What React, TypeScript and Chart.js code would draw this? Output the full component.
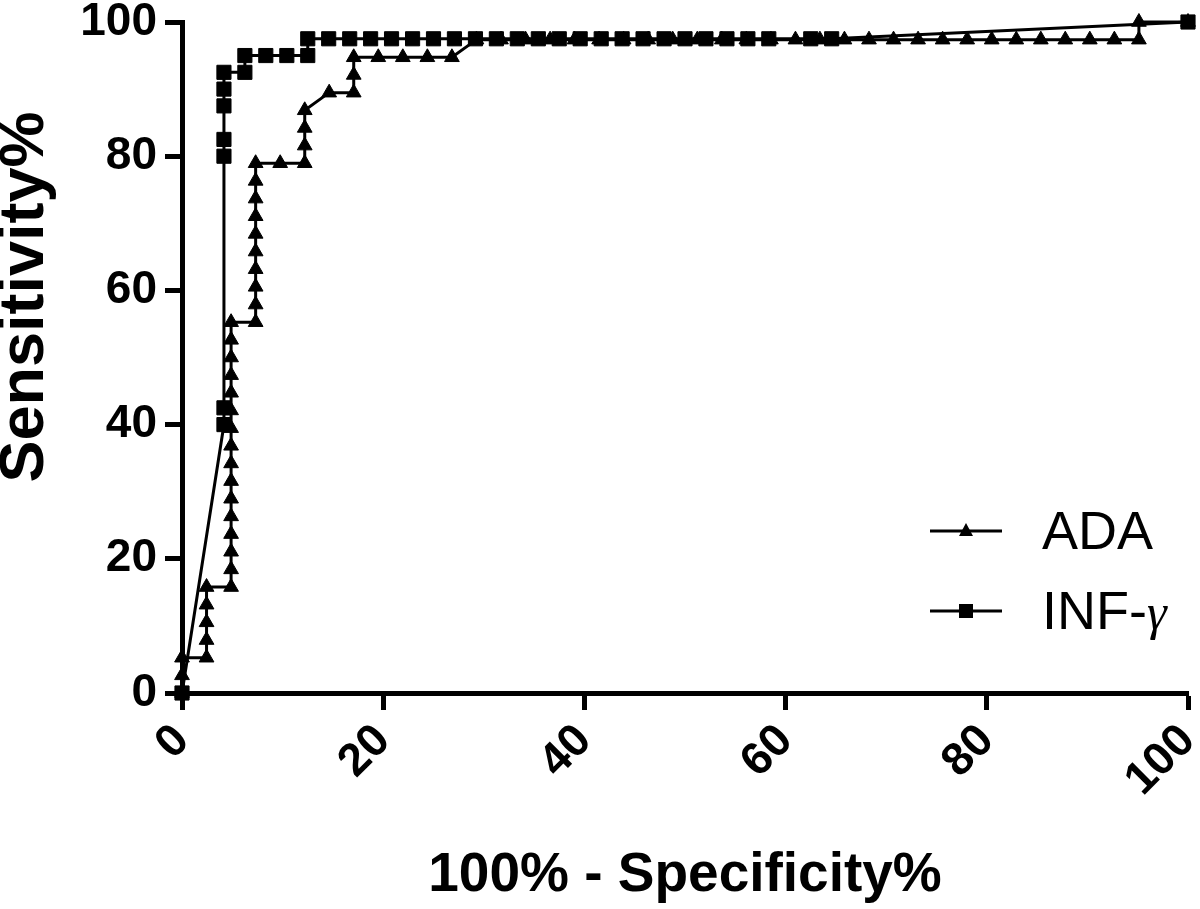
import React, { useEffect, useRef } from 'react';
import { Chart, registerables } from 'chart.js';

Chart.register(...registerables);

// ---- Data ----
const seriesNames = ['ADA', 'INF-γ'];
const xTickValues = [0, 20, 40, 60, 80, 100];
const yTickValues = [0, 20, 40, 60, 80, 100];
const xTitle = '100% - Specificity%';
const yTitle = 'Sensitivity%';

// ADA: 100% - Specificity% (x) and Sensitivity% (y)
const adaX = [
  0, 0, 0,
  2.44, 2.44, 2.44, 2.44, 2.44,
  4.88, 4.88, 4.88, 4.88, 4.88, 4.88, 4.88, 4.88, 4.88, 4.88, 4.88, 4.88, 4.88, 4.88, 4.88, 4.88,
  7.32, 7.32, 7.32, 7.32, 7.32, 7.32, 7.32, 7.32, 7.32, 7.32,
  9.76, 12.2, 12.2, 12.2, 12.2,
  14.63, 17.07, 17.07, 17.07,
  19.51, 21.95, 24.39, 26.83,
  29.27, 31.71, 34.15, 36.59, 39.02, 41.46, 43.9, 46.34, 48.78, 51.22, 53.66, 56.1, 58.54, 60.98,
  63.41, 65.85, 68.29, 70.73, 73.17, 75.61, 78.05, 80.49, 82.93, 85.37, 87.8, 90.24, 92.68, 95.12,
  95.12, 100,
];
const adaY = [
  0, 2.63, 5.26,
  5.26, 7.89, 10.53, 13.16, 15.79,
  15.79, 18.42, 21.05, 23.68, 26.32, 28.95, 31.58, 34.21, 36.84, 39.47, 42.11, 44.74, 47.37, 50.0, 52.63, 55.26,
  55.26, 57.89, 60.53, 63.16, 65.79, 68.42, 71.05, 73.68, 76.32, 78.95,
  78.95, 78.95, 81.58, 84.21, 86.84,
  89.47, 89.47, 92.11, 94.74,
  94.74, 94.74, 94.74, 94.74,
  97.37, 97.37, 97.37, 97.37, 97.37, 97.37, 97.37, 97.37, 97.37, 97.37, 97.37, 97.37, 97.37, 97.37,
  97.37, 97.37, 97.37, 97.37, 97.37, 97.37, 97.37, 97.37, 97.37, 97.37, 97.37, 97.37, 97.37, 97.37,
  100, 100,
];

// INF-γ
const infX = [
  0,
  4.17, 4.17, 4.17, 4.17, 4.17, 4.17, 4.17,
  6.25, 6.25, 8.33, 10.42, 12.5,
  12.5, 14.58, 16.67, 18.75, 20.83, 22.92, 25.0, 27.08, 29.17, 31.25, 33.33, 35.42, 37.5, 39.58,
  41.67, 43.75, 45.83, 47.92, 50.0, 52.08, 54.17, 56.25, 58.33, 62.5, 64.58,
  100,
];
const infY = [
  0,
  40, 42.5, 80, 82.5, 87.5, 90, 92.5,
  92.5, 95, 95, 95, 95,
  97.5, 97.5, 97.5, 97.5, 97.5, 97.5, 97.5, 97.5, 97.5, 97.5, 97.5, 97.5, 97.5, 97.5,
  97.5, 97.5, 97.5, 97.5, 97.5, 97.5, 97.5, 97.5, 97.5, 97.5, 97.5,
  100,
];

const FONT = "'Liberation Sans', Arial, Helvetica, sans-serif";

const legendPlugin = {
  id: 'insideLegend',
  afterDraw(chart: any) {
    const ctx: CanvasRenderingContext2D = chart.ctx;
    ctx.save();
    ctx.strokeStyle = '#000';
    ctx.fillStyle = '#000';
    ctx.lineWidth = 3;
    const rows = [
      { y: 531, style: 'triangle', label: seriesNames[0] },
      { y: 611, style: 'rect', label: seriesNames[1] },
    ];
    rows.forEach((r) => {
      ctx.beginPath();
      ctx.moveTo(930, r.y);
      ctx.lineTo(1002, r.y);
      ctx.stroke();
      ctx.beginPath();
      if (r.style === 'triangle') {
        ctx.moveTo(966, r.y - 8);
        ctx.lineTo(973, r.y + 5);
        ctx.lineTo(959, r.y + 5);
        ctx.closePath();
        ctx.fill();
      } else {
        ctx.fillRect(959, r.y - 7, 14, 14);
      }
      ctx.textBaseline = 'alphabetic';
      ctx.textAlign = 'left';
      ctx.font = `54px ${FONT}`;
      if (r.label.endsWith('γ')) {
        const base = r.label.slice(0, -1);
        ctx.fillText(base, 1042, r.y + 18);
        const w = ctx.measureText(base).width;
        ctx.font = `italic 50px 'Liberation Serif', 'DejaVu Serif', serif`;
        ctx.fillText('γ', 1042 + w, r.y + 18);
      } else {
        ctx.fillText(r.label, 1042, r.y + 18);
      }
    });

    // Y axis title (placed as in the reference, above the axis centre)
    ctx.save();
    ctx.translate(26, 297);
    ctx.rotate(-Math.PI / 2);
    ctx.textAlign = 'center';
    ctx.textBaseline = 'middle';
    ctx.font = `bold 63px ${FONT}`;
    ctx.fillText(yTitle, 0, 0);
    ctx.restore();

    ctx.restore();
  },
};

export default function App() {
  const ref = useRef<HTMLCanvasElement>(null);

  useEffect(() => {
    const canvas = ref.current;
    if (!canvas) return;
    const tickFont = { family: FONT, size: 46, weight: 'bold' as const };
    const titleFont = { family: FONT, size: 55, weight: 'bold' as const };

    const chart = new Chart(canvas, {
      type: 'line',
      data: {
        datasets: [
          {
            label: seriesNames[0],
            data: adaX.map((x, i) => ({ x, y: adaY[i] })),
            borderColor: '#000',
            borderWidth: 3,
            pointStyle: 'triangle',
            pointRadius: 8.5,
            pointBackgroundColor: '#000',
            pointBorderColor: '#000',
            pointBorderWidth: 1,
            tension: 0,
            clip: false,
          },
          {
            label: seriesNames[1],
            data: infX.map((x, i) => ({ x, y: infY[i] })),
            borderColor: '#000',
            borderWidth: 3,
            pointStyle: 'rect',
            pointRadius: 10,
            pointBackgroundColor: '#000',
            pointBorderColor: '#000',
            pointBorderWidth: 1,
            tension: 0,
            clip: false,
          },
        ],
      },
      options: {
        animation: false,
        responsive: false,
        devicePixelRatio: 1,
        layout: { padding: { top: 22, right: 12, left: 0, bottom: 0 } },
        plugins: {
          legend: { display: false },
          tooltip: { enabled: false },
        },
        scales: {
          x: {
            type: 'linear',
            min: 0,
            max: 100,
            afterBuildTicks: (s: any) => {
              s.ticks = xTickValues.map((v) => ({ value: v }));
            },
            ticks: {
              font: tickFont,
              color: '#000',
              minRotation: 45,
              maxRotation: 45,
              padding: 4,
            },
            grid: {
              drawOnChartArea: false,
              drawTicks: true,
              tickLength: 17,
              tickWidth: 5,
              tickColor: '#000',
            },
            border: { display: true, width: 5, color: '#000' },
            title: {
              display: true,
              text: xTitle,
              font: titleFont,
              color: '#000',
              padding: { top: 0, bottom: 0 },
            },
            afterFit: (s: any) => {
              s.height = 216;
              s.paddingLeft = 0;
              s.paddingRight = 0;
              s.paddingTop = 0;
              s.paddingBottom = 0;
            },
          },
          y: {
            type: 'linear',
            min: 0,
            max: 100,
            afterBuildTicks: (s: any) => {
              s.ticks = yTickValues.map((v) => ({ value: v }));
            },
            ticks: {
              font: tickFont,
              color: '#000',
              padding: 8,
            },
            grid: {
              drawOnChartArea: false,
              drawTicks: true,
              tickLength: 17,
              tickWidth: 5,
              tickColor: '#000',
            },
            border: { display: true, width: 5, color: '#000' },
            title: { display: false },
            afterFit: (s: any) => {
              s.width = 182;
              s.paddingLeft = 0;
              s.paddingRight = 0;
              s.paddingTop = 0;
              s.paddingBottom = 0;
            },
          },
        },
      },
      plugins: [legendPlugin],
    });

    return () => {
      chart.destroy();
    };
  }, []);

  return (
    <div
      style={{
        position: 'absolute',
        left: 0,
        top: 0,
        width: 1200,
        height: 909,
        background: '#fff',
      }}
    >
      <canvas ref={ref} width={1200} height={909} style={{ display: 'block' }} />
    </div>
  );
}
